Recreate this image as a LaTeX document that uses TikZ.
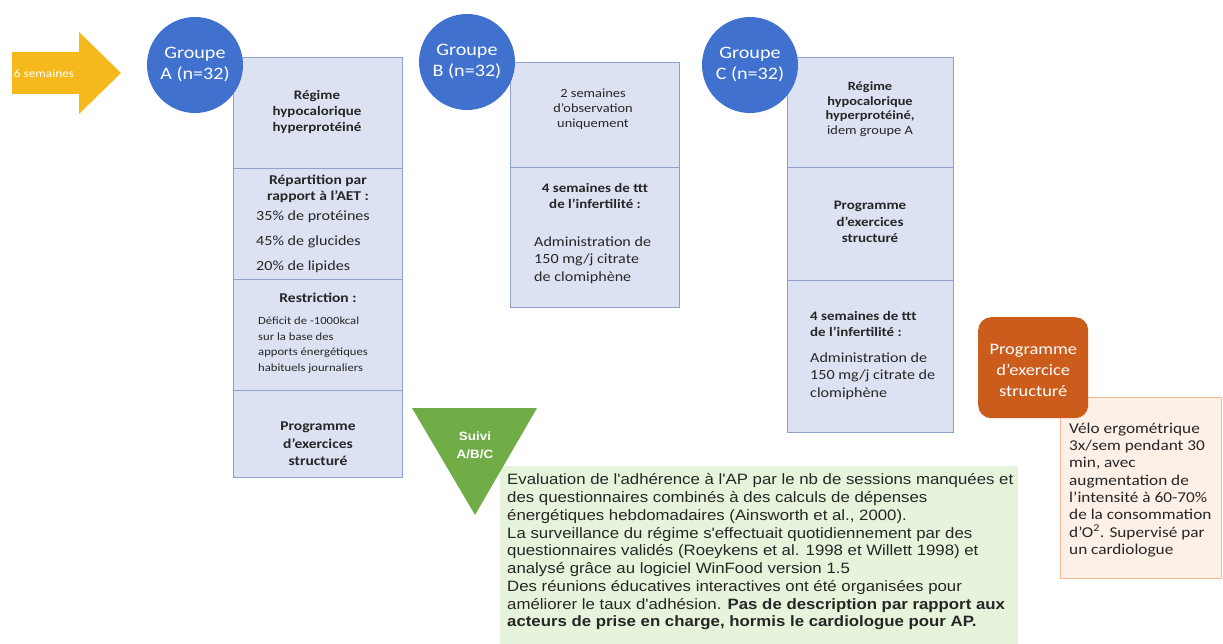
\documentclass[tikz,border=0pt]{standalone}
\usepackage{fontspec}
\setmainfont{Carlito}[FakeStretch=1.15]
\newfontfamily\arialf{Liberation Sans}[FakeStretch=1.12]
\definecolor{boxfill}{HTML}{DCE2F2}
\definecolor{boxline}{HTML}{8FA0CC}
\definecolor{grpblue}{HTML}{4071CF}
\definecolor{arrowyel}{HTML}{F5B91D}
\definecolor{trigreen}{HTML}{70AD47}
\definecolor{greenbg}{HTML}{E6F4DC}
\definecolor{orangebx}{HTML}{CC5C1C}
\definecolor{peachbg}{HTML}{FDF0E6}
\definecolor{peachline}{HTML}{F2B98E}
\definecolor{txt}{HTML}{262626}
\begin{document}
\begin{tikzpicture}[x=1pt,y=-1pt,
  rowbox/.style={draw=boxline, fill=boxfill, line width=0.8pt, inner sep=0pt, anchor=north west, minimum width=169pt},
  grp/.style={circle, fill=grpblue, text=white, minimum size=96pt, inner sep=0pt, align=center, font=\fontsize{17.5}{21}\selectfont},
  tc/.style={align=center, inner sep=0pt, text=txt},
  tl/.style={align=left, inner sep=0pt, text=txt, anchor=west}]
\useasboundingbox (0,0) rectangle (1223,644);
% arrow
\fill[arrowyel] (12,52) -- (79,52) -- (79,32) -- (121,73) -- (79,114) -- (79,94) -- (12,94) -- cycle;
\node[text=white, inner sep=0pt, font=\fontsize{11.5}{13}\selectfont] (sem) at (44,74) {6 semaines};
% box A
\node[rowbox, minimum height=111pt] (a1) at (233,57) {};
\node[rowbox, minimum height=111pt] (a2) at (233,168) {};
\node[rowbox, minimum height=111pt] (a3) at (233,279) {};
\node[rowbox, minimum height=87pt] (a4) at (233,390) {};
\node[tc, font=\bfseries\fontsize{13}{16}\selectfont] (a1t) at (317,112) {Régime\\hypocalorique\\hyperprotéiné};
\node[tc, font=\bfseries\fontsize{13.5}{15.5}\selectfont] (a2t) at (318,189) {Répartition par\\rapport à l'AET :};
\node[tl, font=\fontsize{14}{25}\selectfont] (a2l) at (256,242) {35\% de protéines\\45\% de glucides\\20\% de lipides};
\node[tc, font=\bfseries\fontsize{13.5}{16}\selectfont] (a3t) at (318,298) {Restriction :};
\node[tl, font=\fontsize{11}{15.5}\selectfont] (a3l) at (258,345) {Déficit de -1000kcal\\sur la base des\\apports énergétiques\\habituels journaliers};
\node[tc, font=\bfseries\fontsize{13.5}{17.5}\selectfont] (a4t) at (318,444) {Programme\\d'exercices\\structuré};
% box B
\node[rowbox, minimum height=105pt] (b1) at (510,62) {};
\node[rowbox, minimum height=140pt] (b2) at (510,167) {};
\node[tc, font=\fontsize{12.5}{15}\selectfont] (b1t) at (593,109) {2 semaines\\d'observation\\uniquement};
\node[tc, font=\bfseries\fontsize{13}{16}\selectfont] (b2t) at (595,196) {4 semaines de ttt\\de l'infertilité :};
\node[tl, font=\fontsize{14}{17.5}\selectfont] (b2l) at (534,260) {Administration de\\150 mg/j citrate\\de clomiphène};
% box C
\node[rowbox, minimum width=166pt, minimum height=110pt] (c1) at (787,57) {};
\node[rowbox, minimum width=166pt, minimum height=113pt] (c2) at (787,167) {};
\node[rowbox, minimum width=166pt, minimum height=152pt] (c3) at (787,280) {};
\node[tc, font=\fontsize{12.5}{14.5}\selectfont] (c1t) at (870,109) {\textbf{Régime}\\\textbf{hypocalorique}\\\textbf{hyperprotéiné,}\\idem groupe A};
\node[tc, font=\bfseries\fontsize{13}{16.5}\selectfont] (c2t) at (870,222) {Programme\\d'exercices\\structuré};
\node[tl, font=\bfseries\fontsize{13}{16}\selectfont] (c3t) at (810,324) {4 semaines de ttt\\de l'infertilité :};
\node[tl, font=\fontsize{14}{17.5}\selectfont] (c3l) at (810,376) {Administration de\\150 mg/j citrate de\\clomiphène};
% circles
\node[grp] (ga) at (195,65) {Groupe\\A (n=32)};
\node[grp] (gb) at (467,62) {Groupe\\B (n=32)};
\node[grp] (gc) at (750,65) {Groupe\\C (n=32)};
% green follow-up
\node[fill=greenbg, inner sep=0pt, anchor=north west, minimum width=518pt, minimum height=178pt] (gbox) at (500,466) {};
\coordinate (t1) at (412,408);
\coordinate (t2) at (537,408);
\coordinate (t3) at (475,515);
\fill[trigreen] (t1) -- (t2) -- (t3) -- cycle;
\node[text=white, align=center, inner sep=0pt, font=\arialf\bfseries\fontsize{12}{18}\selectfont] (suivi) at (475,445) {Suivi\\A/B/C};
\node[tl, font=\arialf\fontsize{15}{17.75}\selectfont] (gtxt) at (507,552) {Evaluation de l'adhérence à l'AP par le nb de sessions manquées et\\des questionnaires combinés à des calculs de dépenses\\énergétiques hebdomadaires (Ainsworth et al., 2000).\\La surveillance du régime s'effectuait quotidiennement par des\\questionnaires validés (Roeykens et al. 1998 et Willett 1998) et\\analysé grâce au logiciel WinFood version 1.5\\Des réunions éducatives interactives ont été organisées pour\\améliorer le taux d'adhésion. \textbf{Pas de description par rapport aux}\\\textbf{acteurs de prise en charge, hormis le cardiologue pour AP.}};
% exercise programme
\node[draw=peachline, fill=peachbg, line width=0.8pt, inner sep=0pt, anchor=north west, minimum width=161pt, minimum height=181pt] (pbox) at (1060,397) {};
\node[fill=orangebx, rounded corners=13pt, inner sep=0pt, anchor=north west, minimum width=110pt, minimum height=101pt] (obox) at (978,317) {};
\node[text=white, align=center, inner sep=0pt, font=\fontsize{16}{21}\selectfont] (otxt) at ([yshift=-3pt]obox.center) {Programme\\d'exercice\\structuré};
\node[tl, font=\fontsize{15}{17.3}\selectfont] (ptxt) at (1069,490) {Vélo ergométrique\\3x/sem pendant 30\\min, avec\\augmentation de\\l'intensité à 60-70\%\\de la consommation\\d'O\textsuperscript{2}. Supervisé par\\un cardiologue};
\end{tikzpicture}
\end{document}
